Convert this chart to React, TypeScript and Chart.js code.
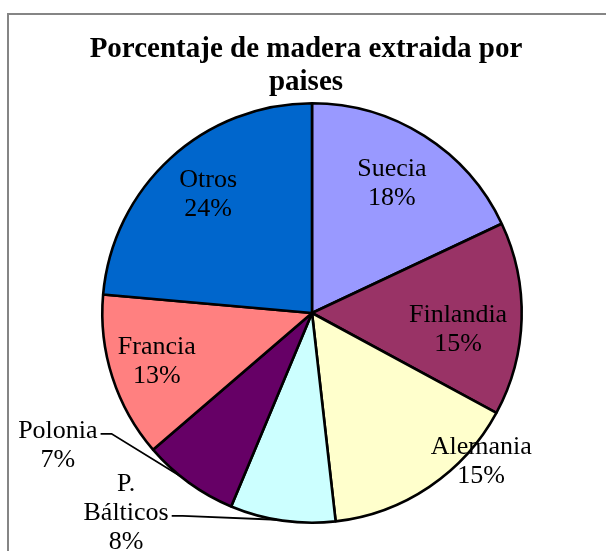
import React, { useEffect, useRef } from "react";
import { Chart, registerables } from "chart.js";

Chart.register(...registerables);

const TITLE_LINES = ["Porcentaje de madera extraida por", "paises"];
const categories = ["Suecia", "Finlandia", "Alemania", "P. Bálticos", "Polonia", "Francia", "Otros"];
const values = [18.0, 14.9, 15.3, 8.1, 7.4, 12.7, 23.6];
const colors = ["#9999FF", "#993366", "#FFFFCC", "#CCFFFF", "#660066", "#FF8080", "#0066CC"];

// label placement (style): radius fraction and angle shift (deg) from slice middle
const labelPlacement = [
  { r: 0.733, da: -1.1, leader: false, lda: 0 },
  { r: 0.7, da: 4.1, leader: false, lda: 0 },
  { r: 1.067, da: -15.1, leader: false, lda: 0 },
  { r: 1.295, da: 35.1, leader: true, lda: 1.5 },
  { r: 1.362, da: 26.85, leader: true, lda: 3 },
  { r: 0.772, da: 1.3, leader: false, lda: 0 },
  { r: 0.757, da: 1.6, leader: false, lda: 0 },
];

const SERIF = '"Liberation Serif", "Times New Roman", serif';

const framePlugin = {
  id: "frame",
  beforeDraw(chart: any) {
    const ctx = chart.ctx;
    ctx.save();
    ctx.fillStyle = "#ffffff";
    ctx.fillRect(0, 0, chart.width, chart.height);
    ctx.strokeStyle = "#858585";
    ctx.lineWidth = 2;
    ctx.beginPath();
    ctx.moveTo(8, chart.height + 5);
    ctx.lineTo(8, 14);
    ctx.lineTo(chart.width + 5, 14);
    ctx.stroke();
    // title
    ctx.fillStyle = "#000";
    ctx.font = `bold 29px ${SERIF}`;
    ctx.textAlign = "center";
    ctx.textBaseline = "alphabetic";
    ctx.fillText(TITLE_LINES[0], 306, 57);
    ctx.fillText(TITLE_LINES[1], 306, 90);
    ctx.restore();
  },
};

const labelsPlugin = {
  id: "sliceLabels",
  afterDatasetsDraw(chart: any) {
    const ctx = chart.ctx;
    const meta = chart.getDatasetMeta(0);
    const data = chart.data.datasets[0].data as number[];
    const total = data.reduce((a, b) => a + b, 0);
    const fs = 26;
    const lh = 29;
    ctx.save();
    ctx.font = `${fs}px ${SERIF}`;
    ctx.fillStyle = "#000";
    ctx.strokeStyle = "#000";
    ctx.lineWidth = 1.8;
    ctx.textAlign = "center";
    ctx.textBaseline = "alphabetic";
    meta.data.forEach((arc: any, i: number) => {
      const p = arc.getProps(["x", "y", "startAngle", "endAngle", "outerRadius"], true);
      const mid = (p.startAngle + p.endAngle) / 2;
      const pl = labelPlacement[i];
      const a = mid + (pl.da * Math.PI) / 180;
      const cx = p.x + Math.cos(a) * p.outerRadius * pl.r;
      const cy = p.y + Math.sin(a) * p.outerRadius * pl.r;
      const lines = [...String(chart.data.labels[i]).split(" "), Math.round((data[i] / total) * 100) + "%"];
      const n = lines.length;
      lines.forEach((t, k) => {
        const by = cy + (k - (n - 1) / 2) * lh + 9;
        ctx.fillText(t, cx, by);
      });
      if (pl.leader) {
        const k = n - 2;
        const t = lines[k];
        const w = ctx.measureText(t).width;
        const sx = cx + w / 2 + 3;
        const sy = cy + (k - (n - 1) / 2) * lh + 9 - 4;
        const la = mid + (pl.lda * Math.PI) / 180;
        const ex = p.x + Math.cos(la) * p.outerRadius;
        const ey = p.y + Math.sin(la) * p.outerRadius;
        ctx.beginPath();
        ctx.moveTo(sx, sy);
        ctx.lineTo(sx + 11, sy);
        ctx.lineTo(ex, ey);
        ctx.stroke();
      }
    });
    ctx.restore();
  },
};

export default function App() {
  const ref = useRef<HTMLCanvasElement | null>(null);
  useEffect(() => {
    if (!ref.current) return;
    const chart = new Chart(ref.current, {
      type: "pie",
      data: {
        labels: categories,
        datasets: [
          {
            data: values,
            backgroundColor: colors,
            borderColor: "#000000",
            borderWidth: 2.6,
          },
        ],
      },
      options: {
        responsive: false,
        animation: false,
        layout: { padding: { left: 101, right: 83, top: 102, bottom: 27 } },
        plugins: {
          legend: { display: false },
          tooltip: { enabled: false },
          title: { display: false },
        },
      },
      plugins: [framePlugin, labelsPlugin],
    });
    return () => chart.destroy();
  }, []);
  return (
    <div style={{ position: "absolute", left: 0, top: 0, width: 606, height: 551, background: "#fff" }}>
      <canvas ref={ref} width={606} height={551} style={{ display: "block" }} />
    </div>
  );
}
